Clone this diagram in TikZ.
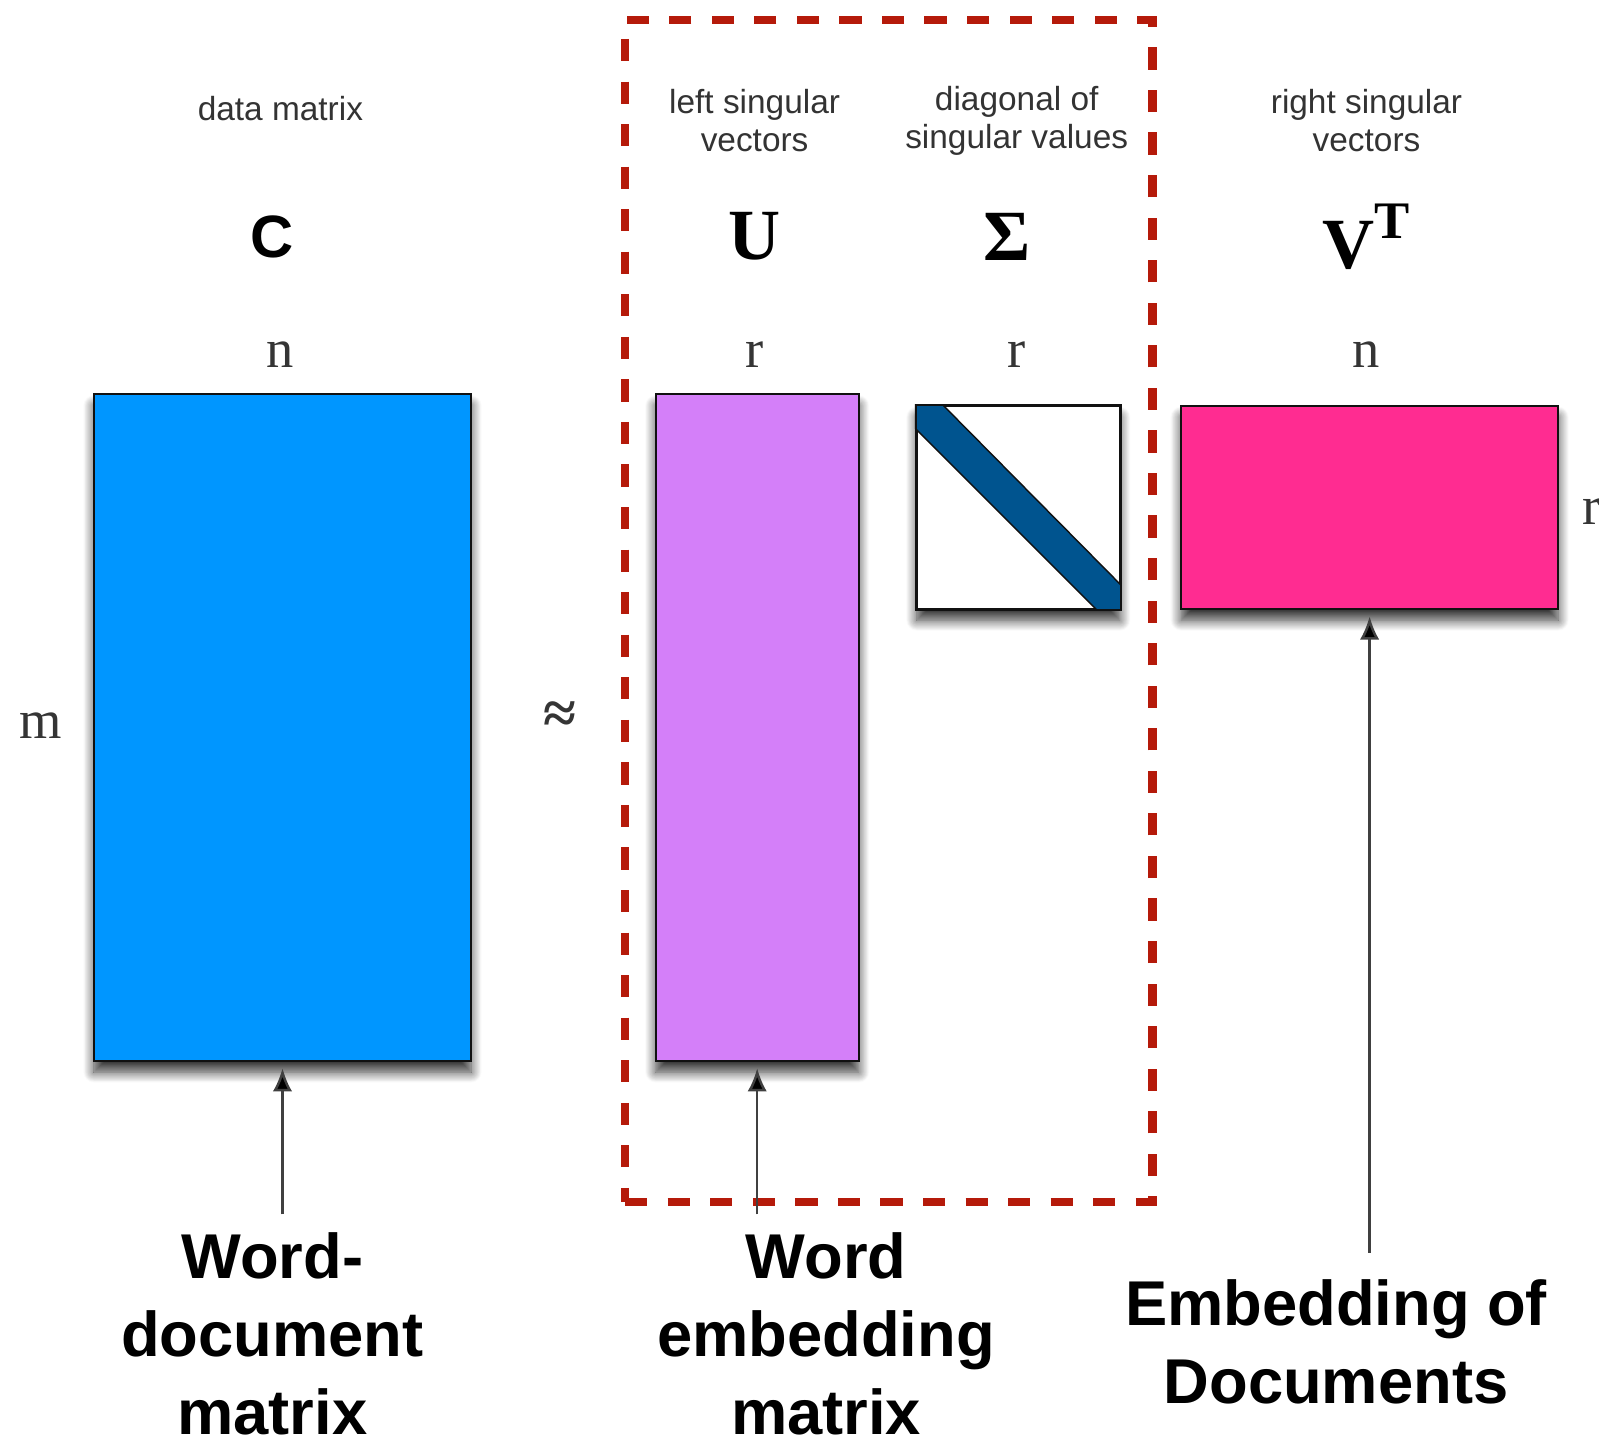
\documentclass[tikz,border=0pt]{standalone}
\usepackage{fontspec}
\setmainfont{Liberation Serif}
\setsansfont{Liberation Sans}
\usetikzlibrary{arrows.meta,positioning,shadows.blur}
\definecolor{ink}{HTML}{111111}
\definecolor{caption}{HTML}{333333}
\definecolor{cblue}{HTML}{0096FF}
\definecolor{cviolet}{HTML}{D47FF9}
\definecolor{cpink}{HTML}{FF2C91}
\definecolor{cdiag}{HTML}{00548F}
\definecolor{cred}{HTML}{B51A0A}
\tikzset{
  matbox/.style={draw=ink,line width=0.6pt,fill=#1,inner sep=0pt,blur shadow={shadow xshift=0pt,shadow yshift=-3.2pt,shadow blur radius=3pt,shadow blur steps=12,shadow opacity=80}},
  note/.style={font=\sffamily\fontsize{9.5}{10.7}\selectfont,text=caption,align=center,inner sep=0pt},
  dimlabel/.style={font=\fontsize{15.5}{16}\selectfont,text=ink!85,inner sep=0pt},
  symb/.style={font=\bfseries\fontsize{20.5}{21}\selectfont,inner sep=0pt},
  biglabel/.style={font=\sffamily\bfseries\fontsize{18}{22.2}\selectfont,align=center,inner sep=0pt},
  pointer/.style={-{Latex[length=6.6pt,width=5.5pt,fill=black]},line width=0.7pt,draw=black!75,shorten <=7.5pt,shorten >=1.8pt},
  svdframe/.style={draw=cred,line width=2.4pt,dash pattern=on 6.3pt off 5.8pt,inner sep=0pt}
}
\begin{document}
\begin{tikzpicture}[x=0.01cm,y=-0.01cm]
    \useasboundingbox (0,0) rectangle (1599,1446);

    % the four matrices
    \node[matbox=cblue,minimum width=3.77cm,minimum height=6.66cm] (C) at (282.5,727.6) {};
    \node[matbox=cviolet,minimum width=2.03cm,minimum height=6.66cm] (U) at (757.2,727.6) {};
    \node[matbox=white,minimum width=2.03cm,minimum height=2.03cm] (S) at (1018.3,507.4) {};
    \node[matbox=cpink,minimum width=3.77cm,minimum height=2.03cm] (V) at (1369.6,507.4) {};
    \fill[cdiag,draw=ink,line width=0.4pt] (S.north west) -- ([xshift=0.27cm]S.north west) -- ([yshift=0.25cm]S.south east)
      -- (S.south east) -- ([xshift=-0.24cm]S.south east) -- ([yshift=-0.24cm]S.north west) -- cycle;
    \draw[ink,line width=0.6pt] (S.north west) rectangle (S.south east);

    % U and Sigma together
    \node[svdframe,minimum width=5.27cm,minimum height=11.81cm] (svd) at (888.8,610.9) {};

    \node[note] (cnote) at (280.4,109) {data matrix};
    \node[note] (unote) at (754.6,120.8) {left singular\\vectors};
    \node[note] (snote) at (1016.7,120.8) {diagonal of\\singular values};
    \node[note] (vnote) at (1366.5,120.8) {right singular\\vectors};

    \node[font=\sffamily\bfseries\fontsize{17}{17}\selectfont,inner sep=0pt] (csym) at (272.3,236.6) {C};
    \node[symb] (usym) at (754.6,236.6) {U};
    \node[symb] (ssym) at (1007.5,236.6) {Σ};
    \node[symb] (vsym) at (1366.5,236.6) {V\raisebox{0.42em}{\fontsize{15}{15}\selectfont T}};

    \node[dimlabel] (cn) at (280.4,354.9) {n};
    \node[dimlabel] (cm) at (40.8,726) {m};
    \node[dimlabel,font=\bfseries\fontsize{17}{17}\selectfont] (approx) at (560,718) {≈};
    \node[dimlabel] (ur) at (754.6,354.9) {r};
    \node[dimlabel] (sr) at (1016.7,354.9) {r};
    \node[dimlabel] (vn) at (1366.5,354.9) {n};
    \node[dimlabel] (vr) at (1592,512) {r};

    \node[biglabel] (wdlabel) at (272.3,1334) {Word-\\document\\matrix};
    \node[biglabel] (welabel) at (826,1334) {Word\\embedding\\matrix};
    \node[biglabel] (edlabel) at (1336,1342) {Embedding of\\Documents};

    \draw[pointer,shorten <=5pt] (C.south |- wdlabel.north) -- (C.south);
    \draw[pointer,shorten <=5pt] (U.south |- welabel.north) -- (U.south);
    \draw[pointer] (V.south |- edlabel.north) -- (V.south);
\end{tikzpicture}
\end{document}
